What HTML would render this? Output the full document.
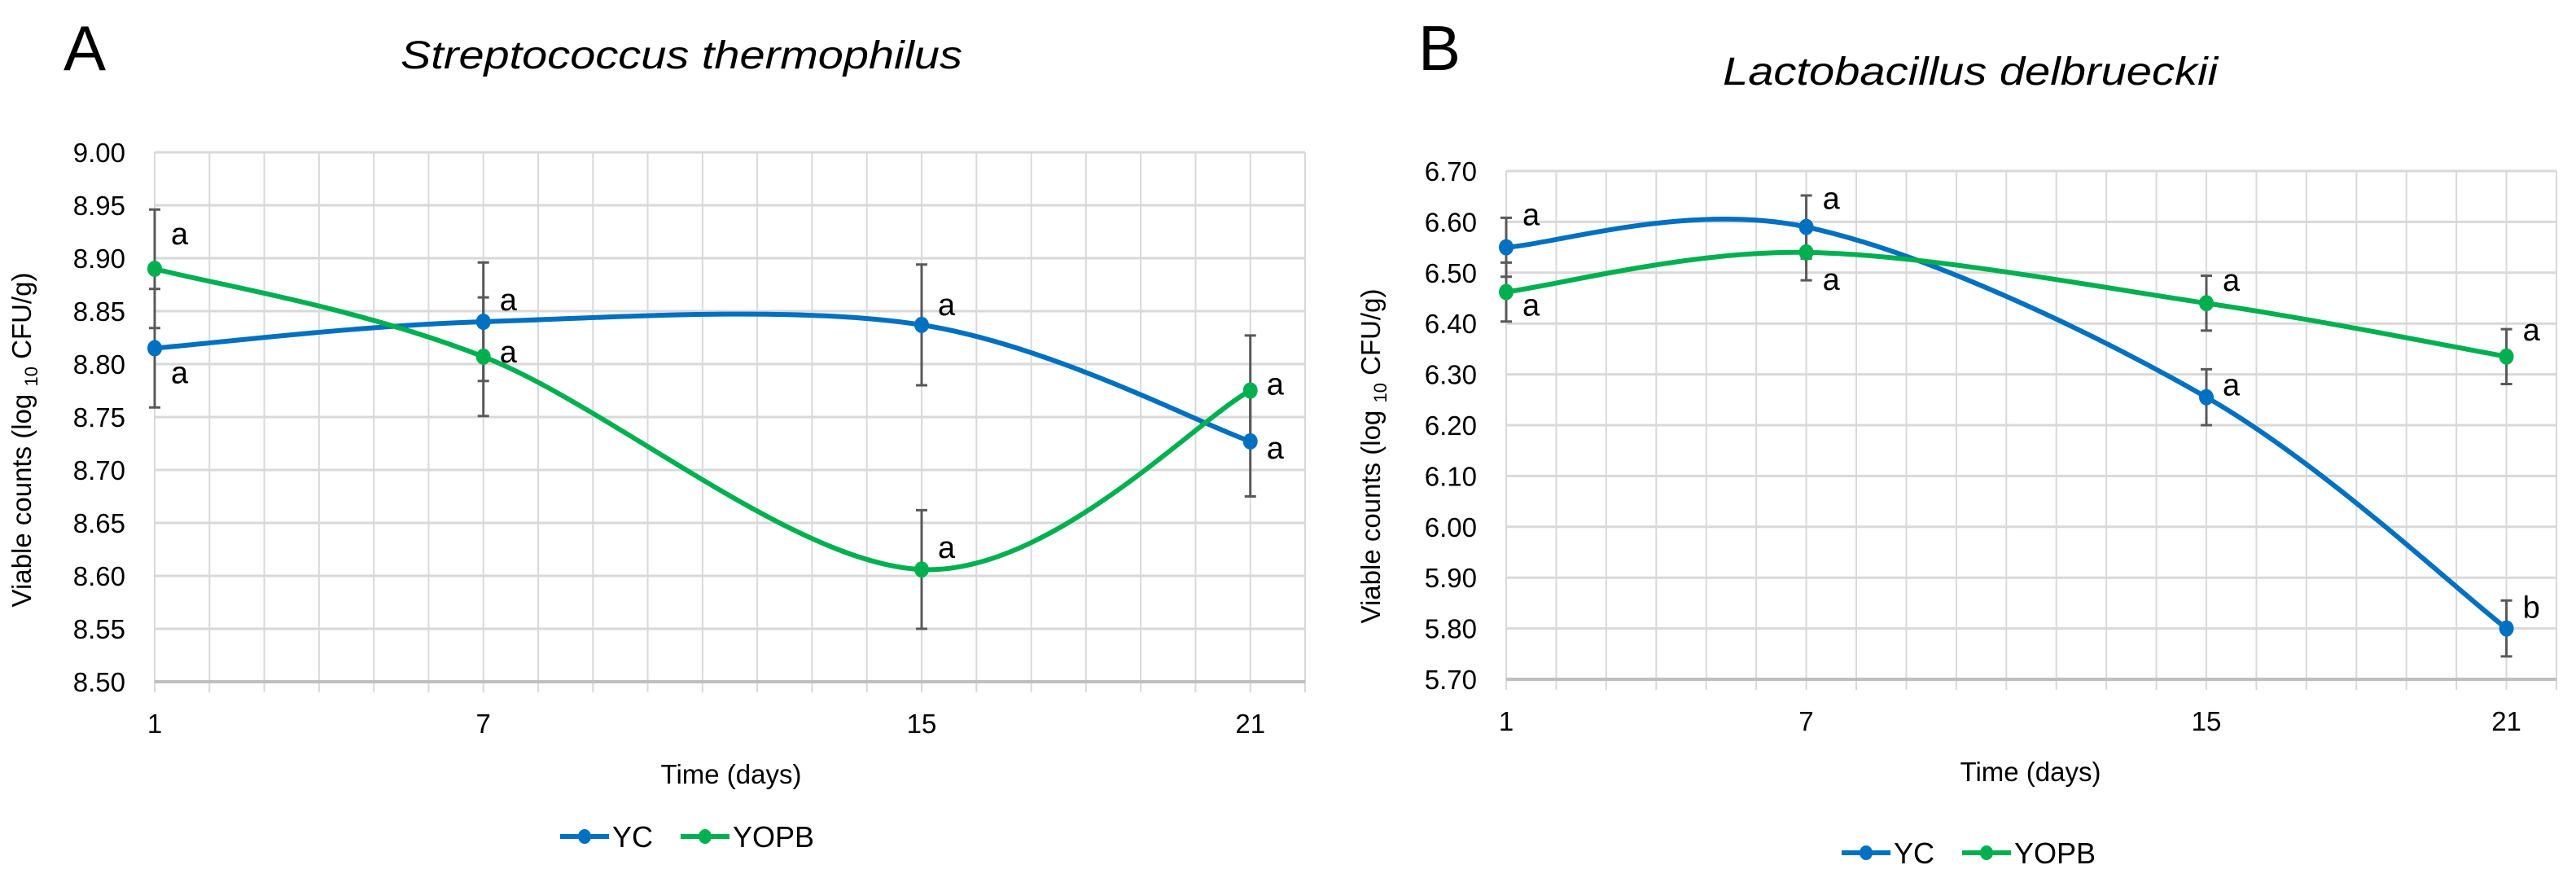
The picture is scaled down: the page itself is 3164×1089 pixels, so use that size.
<!DOCTYPE html>
<html><head><meta charset="utf-8">
<style>
html,body{margin:0;padding:0;background:#fff;}
svg{display:block;font-family:"Liberation Sans",sans-serif;}
</style></head>
<body>
<svg id="fig" width="3164" height="1089" viewBox="0 0 3164 1089" xmlns="http://www.w3.org/2000/svg">
  <text x="78" y="86" font-size="78">A</text>
  <text x="837" y="84" font-size="48" font-style="italic" text-anchor="middle" textLength="690" lengthAdjust="spacingAndGlyphs">Streptococcus thermophilus</text>
  <text x="1742" y="86" font-size="78">B</text>
  <text x="2420" y="104" font-size="48" font-style="italic" text-anchor="middle" textLength="608" lengthAdjust="spacingAndGlyphs">Lactobacillus delbrueckii</text>
  <g id="chartA"></g>
  <g id="chartB"></g>
</svg>
<script>
// ---- Chart A data (Streptococcus thermophilus)
const daysA = [1, 7, 15, 21];
const ycA = [8.815, 8.840, 8.837, 8.727];
const yopbA = [8.890, 8.807, 8.606, 8.775];
const ycErrA = [0.056, 0.056, 0.057, 0.052];
const yopbErrA = [0.056, 0.056, 0.056, 0.052];
const ycLettersA = ["a", "a", "a", "a"];
const yopbLettersA = ["a", "a", "a", "a"];
const yTicksA = ["8.50","8.55","8.60","8.65","8.70","8.75","8.80","8.85","8.90","8.95","9.00"];
const xTicksA = ["1","7","15","21"];
// ---- Chart B data (Lactobacillus delbrueckii)
const daysB = [1, 7, 15, 21];
const ycB = [6.550, 6.590, 6.255, 5.800];
const yopbB = [6.462, 6.540, 6.440, 6.335];
const ycErrB = [0.058, 0.062, 0.055, 0.055];
const yopbErrB = [0.058, 0.055, 0.054, 0.054];
const ycLettersB = ["a", "a", "a", "b"];
const yopbLettersB = ["a", "a", "a", "a"];
const yTicksB = ["5.70","5.80","5.90","6.00","6.10","6.20","6.30","6.40","6.50","6.60","6.70"];
const xTicksB = ["1","7","15","21"];

const NS = "http://www.w3.org/2000/svg";
function mk(parent, tag, attrs, text){
  const e = document.createElementNS(NS, tag);
  for (const k in attrs) e.setAttribute(k, attrs[k]);
  if (text !== undefined) e.textContent = text;
  parent.appendChild(e);
  return e;
}
function smoothPath(pts){
  let d = "M" + pts[0][0] + "," + pts[0][1];
  for (let i = 0; i < pts.length - 1; i++){
    const p0 = pts[Math.max(i-1,0)], p1 = pts[i], p2 = pts[i+1], p3 = pts[Math.min(i+2,pts.length-1)];
    const c1x = p1[0] + (p2[0]-p0[0])/6, c1y = p1[1] + (p2[1]-p0[1])/6;
    const c2x = p2[0] - (p3[0]-p1[0])/6, c2y = p2[1] - (p3[1]-p1[1])/6;
    d += " C" + c1x + "," + c1y + " " + c2x + "," + c2y + " " + p2[0] + "," + p2[1];
  }
  return d;
}

function drawChart(g, cfg){
  const {x0, x1, yTop, yBot, dayMin, dayMax, yMin, yMax} = cfg;
  const sx = d => x0 + (d - dayMin) / (dayMax - dayMin) * (x1 - x0);
  const sy = v => yBot - (v - yMin) / (yMax - yMin) * (yBot - yTop);
  // vertical gridlines each day
  for (let d = dayMin; d <= dayMax; d++){
    const l = mk(g, "line", {x1: sx(d), x2: sx(d), y1: yTop, y2: yBot + 13, stroke: "#d9d9d9", "stroke-width": 2});
    
    
  }
  // horizontal gridlines + y tick labels
  cfg.yTicks.forEach(t => {
    const v = parseFloat(t);
    const l = mk(g, "line", {x1: x0, x2: x1, y1: sy(v), y2: sy(v), stroke: v === yMin ? "#bfbfbf" : "#d9d9d9", "stroke-width": v === yMin ? 4 : 3});
    
    
    const tx = mk(g, "text", {x: x0 - 36, y: sy(v) + 12, "font-size": 33, "text-anchor": "end", fill: "#000"}, t);
    
    
  });
  cfg.xTicks.forEach(t => {
    const tx = mk(g, "text", {x: sx(parseFloat(t)), y: cfg.xLabelY, "font-size": 33, "text-anchor": "middle"}, t);
    
    
  });
  const xt = mk(g, "text", {x: cfg.xTitleX, y: cfg.xLabelY + 62, "font-size": 33, "text-anchor": "middle"}, "Time (days)");
  
  
  // y axis title
  const yt = mk(g, "text", {x: 0, y: 0, "font-size": 33, "text-anchor": "middle", transform: "translate(" + cfg.yTitleX + "," + cfg.yTitleY + ") rotate(-90)"});
  
  
  mk(yt, "tspan", {}, "Viable counts (log ");
  mk(yt, "tspan", {"font-size": 22, dy: 8}, "10");
  mk(yt, "tspan", {dy: -8}, " CFU/g)");

  const series = [
    {name: "yc", vals: cfg.yc, err: cfg.ycErr, letters: cfg.ycLetters, color: "#0070c0", dys: cfg.ycDy},
    {name: "yopb", vals: cfg.yopb, err: cfg.yopbErr, letters: cfg.yopbLetters, color: "#00b050", dys: cfg.yopbDy}
  ];
  // error bars
  series.forEach(s => {
    cfg.days.forEach((d, i) => {
      const x = sx(d), yh = sy(s.vals[i] + s.err[i]), yl = sy(s.vals[i] - s.err[i]);
      const eb = mk(g, "path", {d: "M"+x+","+yh+"V"+yl+"M"+(x-7)+","+yh+"H"+(x+7)+"M"+(x-7)+","+yl+"H"+(x+7), stroke: "#595959", "stroke-width": 3, fill: "none"});
      
      
    });
  });
  series.forEach(s => {
    const pts = cfg.days.map((d, i) => [sx(d), sy(s.vals[i])]);
    const p = mk(g, "path", {d: smoothPath(pts), stroke: s.color, "stroke-width": 6, fill: "none", "stroke-linecap": "round"});
    
    
    pts.forEach((pt, i) => {
      const c = mk(g, "ellipse", {cx: pt[0], cy: pt[1], rx: 9, ry: 10, fill: s.color});
      
      
      const lt = mk(g, "text", {x: pt[0] + 20, y: pt[1] + s.dys[i] + 13, "font-size": 38}, s.letters[i]);
      
      
    });
  });
  // legend
  const lg = mk(g, "g", {});
  
  
  const lx = cfg.legendX, ly = cfg.legendY;
  [["YC", "#0070c0", 0], ["YOPB", "#00b050", 148]].forEach(([lab, col, off]) => {
    const e = mk(lg, "g", {});
    
    
    mk(e, "line", {x1: lx + off, x2: lx + off + 60, y1: ly, y2: ly, stroke: col, "stroke-width": 6});
    mk(e, "ellipse", {cx: lx + off + 30, cy: ly, rx: 8, ry: 9, fill: col});
    mk(e, "text", {x: lx + off + 64, y: ly + 13, "font-size": 36}, lab);
  });
}

drawChart(document.getElementById("chartA"), {
  x0: 190, x1: 1603, yTop: 187, yBot: 837, dayMin: 1, dayMax: 22, yMin: 8.50, yMax: 9.00,
  yTicks: yTicksA, xTicks: xTicksA, days: daysA, xLabelY: 900, xTitleX: 898,
  yTitleX: 38, yTitleY: 540,
  yc: ycA, yopb: yopbA, ycErr: ycErrA, yopbErr: yopbErrA, ycLetters: ycLettersA, yopbLetters: yopbLettersA,
  ycDy: [30, -27, -25, 8], yopbDy: [-43, -6, -27, -8],
  legendX: 688, legendY: 1027
});
drawChart(document.getElementById("chartB"), {
  x0: 1850, x1: 3140, yTop: 210, yBot: 834, dayMin: 1, dayMax: 22, yMin: 5.70, yMax: 6.70,
  yTicks: yTicksB, xTicks: xTicksB, days: daysB, xLabelY: 897, xTitleX: 2494,
  yTitleX: 1695, yTitleY: 560,
  yc: ycB, yopb: yopbB, ycErr: ycErrB, yopbErr: yopbErrB, ycLetters: ycLettersB, yopbLetters: yopbLettersB,
  ycDy: [-40, -35, -15, -26], yopbDy: [16, 33, -28, -33],
  legendX: 2262, legendY: 1047
});
</script>
</body></html>
